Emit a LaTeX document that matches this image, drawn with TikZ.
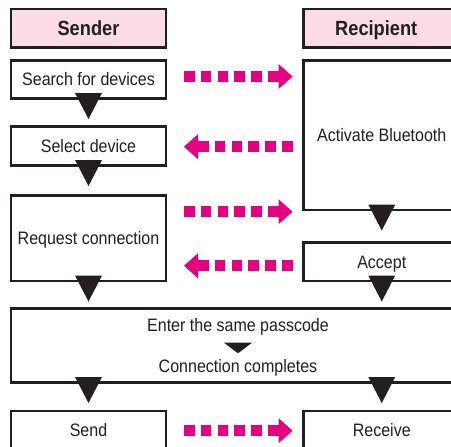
\documentclass[tikz,border=0pt]{standalone}
\usepackage{fontspec}
\setmainfont{Liberation Sans}[FakeStretch=0.89]
\usetikzlibrary{calc,arrows.meta}
\definecolor{ink}{HTML}{231F20}
\definecolor{hdr}{HTML}{FBDCE7}
\definecolor{mag}{HTML}{E4007F}
\tikzset{
  box/.style={draw=ink, line width=2.2pt, fill=white, text=ink, outer sep=0pt, inner sep=0pt,
    font=\fontsize{18}{21}\selectfont, text height=12.9pt, text depth=0pt, anchor=center,
    minimum width=155pt},
  rbox/.style={box, minimum width=156.5pt},
  hdrbox/.style={box, fill=hdr, font=\fontsize{20.5}{24}\selectfont\bfseries, text height=14.7pt},
  txt/.style={text=ink, inner sep=0pt, font=\fontsize{18}{21}\selectfont, anchor=base},
  tri/.style={fill=ink},
  flow/.style={draw=mag, line width=11pt, dash pattern=on 10.5pt off 6.3pt,
    -{Triangle[length=14pt,width=25pt,line width=0pt]}}
}
\newcommand\downtri[1]{\fill[tri] ($#1+(-13.5,-5.5)$) -- ++(27,0) -- ++(-13.5,26) -- cycle;}
\begin{document}
\begin{tikzpicture}[x=1pt,y=-1pt]
\useasboundingbox (0,0) rectangle (451,447);
\clip (0,0) rectangle (451,447);
% headers
\node[hdrbox, minimum height=38.5pt] (sender) at (88.5,28.25) {Sender};
\node[hdrbox, minimum width=156.5pt, minimum height=38.5pt] (recipient) at (381.75,28.25) {Recipient\hspace*{11pt}};
% boxes
\node[box, minimum height=38pt] (search) at (88.5,79.5) {Search for devices};
\node[rbox, minimum height=149.5pt] (activate) at (381.75,135.25) {Activate Bluetooth};
\node[box, minimum height=39pt] (select) at (88.5,146) {Select device};
\node[box, minimum height=85.5pt] (request) at (88.5,238.25) {Request connection};
\node[rbox, minimum height=38.5pt] (accept) at (381.75,261.75) {Accept};
\node[box, minimum width=449pt, minimum height=74pt] (enter) at (235.5,345.5) {};
\node[txt] (passcode) at (238,331.7) {Enter the same passcode};
\node[txt] (complete) at (238,372.2) {Connection completes};
\node[box, minimum height=39pt] (send) at (88.5,430.5) {Send};
\node[rbox, minimum height=39pt] (receive) at (381.75,430.5) {Receive};
% flow triangles
\coordinate (eL) at (search.south |- enter.south);
\coordinate (eR) at (accept.south |- enter.south);
\downtri{(search.south)}
\downtri{(select.south)}
\downtri{(activate.south)}
\downtri{(request.south)}
\downtri{(accept.south)}
\downtri{(eL)}
\downtri{(eR)}
\fill[tri] ($(passcode.base)+(-14,11)$) -- ++(28,0) -- ++(-14,10.6) -- cycle;
% pink arrows
\draw[flow] ([shift={(18,-3)}]search.east) -- ([shift={(126.5,-3)}]search.east);
\draw[flow] ([shift={(126.5,0.7)}]select.east) -- ([shift={(18,0.7)}]select.east);
\draw[flow] ([shift={(18,-26.5)}]request.east) -- ([shift={(126.5,-26.5)}]request.east);
\draw[flow] ([shift={(-11,4)}]accept.west) -- ([shift={(-119.5,4)}]accept.west);
\draw[flow] ([shift={(18,0.2)}]send.east) -- ([shift={(126.5,0.2)}]send.east);
\end{tikzpicture}
\end{document}
